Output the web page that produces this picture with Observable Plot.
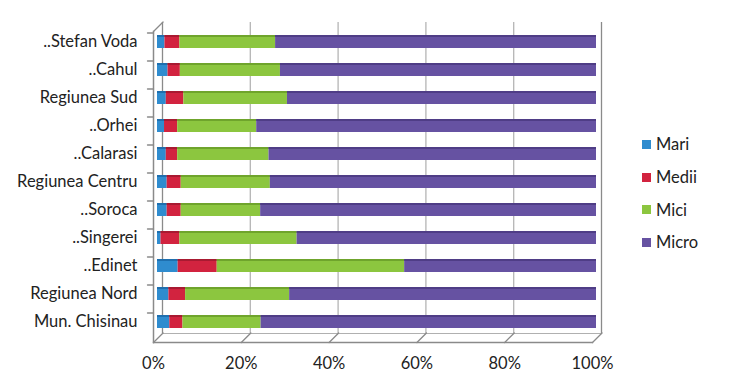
<!DOCTYPE html>
<html>
<head>
<meta charset="utf-8">
<script src="https://cdn.jsdelivr.net/npm/d3@7"></script>
<script src="https://cdn.jsdelivr.net/npm/@observablehq/plot@0.6"></script>
<style>
  html, body { margin: 0; padding: 0; background: #fff; }
  #wrap { position: relative; width: 732px; height: 387px; font-family: Lato, "Open Sans", sans-serif; }
  #legend { position: absolute; left: 642px; top: 128px; font-size: 16.5px; color: #222; }
  #legend .item { display: flex; align-items: center; height: 32.7px; }
  #legend .sw { width: 9px; height: 9px; margin-right: 5px; }
</style>
</head>
<body>
<div id="wrap"><div id="chart"></div><div id="legend"></div></div>
<script>
const regions = ["..Stefan Voda", "..Cahul", "Regiunea Sud", "..Orhei", "..Calarasi", "Regiunea Centru", "..Soroca", "..Singerei", "..Edinet", "Regiunea Nord", "Mun. Chisinau"];
const series = ["Mari", "Medii", "Mici", "Micro"];
const mari  = [1.7, 2.4, 2.0, 1.6, 2.0, 2.2, 2.2, 0.8, 4.7, 2.6, 2.8];
const medii = [3.4, 2.8, 4.0, 3.0, 2.6, 3.2, 3.2, 4.3, 8.9, 3.8, 3.0];
const mici  = [21.8, 22.8, 23.6, 18.0, 20.8, 20.3, 18.1, 26.7, 42.7, 23.7, 17.8];
const micro = [73.1, 72.0, 70.4, 77.4, 74.6, 74.3, 76.5, 68.2, 43.7, 69.9, 76.4];
const xTicks = [0, 20, 40, 60, 80, 100];
const colors = ["#2f8ccf", "#d2233f", "#8cc63f", "#6652a2"];
const topColors = ["#1f6fae", "#a81a31", "#6fa42c", "#4f3d86"];

const cols = [mari, medii, mici, micro];
const data = [];
regions.forEach((r, i) => series.forEach((s, j) => data.push({region: r, series: s, value: cols[j][i]})));

const line = {draw(ctx, l) { ctx.moveTo(0, 0); ctx.lineTo(0, -l); }};

const chart = Plot.plot({
  width: 732,
  height: 387,
  marginLeft: 157,
  marginRight: 136,
  marginTop: 26,
  marginBottom: 50,
  style: {fontFamily: "Lato, 'Open Sans', sans-serif", fontSize: "16.5px", color: "#222", background: "#fff"},
  x: {domain: [0, 100], ticks: xTicks},
  y: {domain: regions, paddingInner: 0.54, paddingOuter: 0.265},
  color: {domain: series, range: colors},
  marks: [
    // back wall
    Plot.ruleX(xTicks, {stroke: d => d === 0 || d === 100 ? "#8a8a8a" : "#b5b5b5", strokeWidth: 1.3, dx: 5, dy: -4}),
    Plot.frame({anchor: "bottom", stroke: "#b0b0b0", dx: 5, dy: -4}),
    // floor front edge and left front axis
    Plot.frame({anchor: "bottom", stroke: "#8a8a8a", strokeWidth: 1.3, dx: -4, dy: 5}),
    Plot.frame({anchor: "left", stroke: "#8a8a8a", strokeWidth: 1.5, dx: -4, dy: 5}),
    // diagonal tick connectors
    Plot.vector(xTicks, {x: d => d, frameAnchor: "bottom", dx: -4, dy: 5, rotate: 45, length: 13.5, anchor: "start", stroke: "#8a8a8a", strokeWidth: 1.3, shape: line}),
    Plot.vector([0], {x: d => d, frameAnchor: "top", dx: -4, dy: 5, rotate: 45, length: 13.5, anchor: "start", stroke: "#8a8a8a", strokeWidth: 1.3, shape: line}),
    // left wall category ticks
    Plot.vector(regions.slice(0, -1), {x: () => 0, y: d => d, dx: -4, dy: 19, rotate: 270, length: 6, anchor: "start", stroke: "#8a8a8a", strokeWidth: 1.3, shape: line}),
    Plot.vector(regions.slice(0, 1), {x: () => 0, y: d => d, dx: -4, dy: -9, rotate: 270, length: 6, anchor: "start", stroke: "#8a8a8a", strokeWidth: 1.3, shape: line}),
    // bars
    Plot.barX(data, Plot.stackX({x: "value", y: "region", fill: "series", order: series})),
    Plot.barX(data, Plot.stackX({x: "value", y: "region", fill: d => topColors[series.indexOf(d.series)], order: series, insetBottom: 11})),
    // axes
    Plot.axisY({tickSize: 0, tickPadding: 20, fontSize: 16.5, label: null}),
    Plot.axisX({ticks: xTicks, tickSize: 0, tickPadding: 20, dx: -4, tickFormat: d => d + "%", fontSize: 16.5, label: null})
  ]
});
document.getElementById("chart").appendChild(chart);

const legend = document.getElementById("legend");
series.forEach((s, j) => {
  const item = document.createElement("div");
  item.className = "item";
  const sw = document.createElement("span");
  sw.className = "sw";
  sw.style.background = colors[j];
  const t = document.createElement("span");
  t.textContent = s;
  item.appendChild(sw);
  item.appendChild(t);
  legend.appendChild(item);
});
</script>
</body>
</html>
